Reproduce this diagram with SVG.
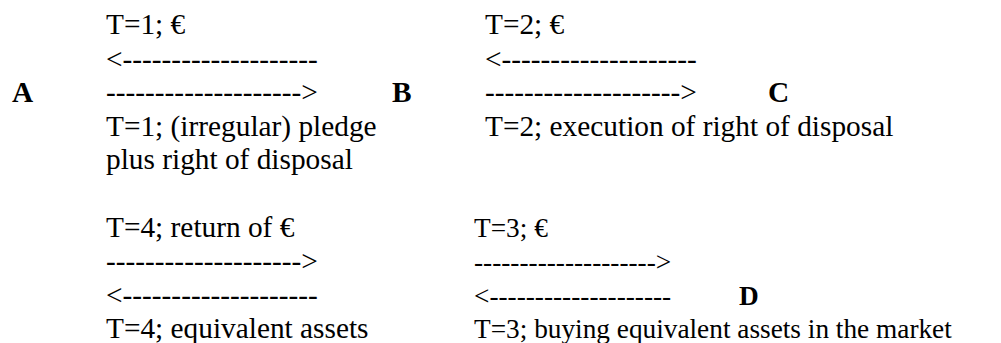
<svg xmlns="http://www.w3.org/2000/svg" width="1001" height="343" viewBox="0 0 1001 343">
<style>
  .t { font-family: 'Liberation Serif', 'DejaVu Serif', serif; font-size: 29.33px; fill: #000; }
  .s { font-size: 27.3px; }
  .node { font-weight: bold; }
</style>
<rect width="1001" height="343" fill="#fff"/>
<g id="node-A"><text class="t node" x="12" y="102">A</text></g>
<g id="node-B"><text class="t node" x="392" y="102">B</text></g>
<g id="node-C"><text class="t node" x="768" y="102">C</text></g>
<g id="node-D"><text class="t s node" x="739" y="304.5">D</text></g>
<g id="connectors">
  <text class="t" x="106" y="68.5">&lt;--------------------</text>
  <text class="t" x="106" y="102">--------------------&gt;</text>
  <text class="t" x="485" y="68.5">&lt;--------------------</text>
  <text class="t" x="485" y="102">--------------------&gt;</text>
  <text class="t" x="106" y="271">--------------------&gt;</text>
  <text class="t" x="106" y="304.5">&lt;--------------------</text>
  <text class="t s" x="474" y="271">--------------------&gt;</text>
  <text class="t s" x="474" y="304.5">&lt;--------------------</text>
</g>
<g id="labels">
  <text class="t" x="106" y="34">T=1; €</text>
  <text class="t" x="485" y="34">T=2; €</text>
  <text class="t" x="106" y="135.5">T=1; (irregular) pledge</text>
  <text class="t" x="106" y="169">plus right of disposal</text>
  <text class="t" x="485" y="135.5">T=2; execution of right of disposal</text>
  <text class="t" x="106" y="237">T=4; return of €</text>
  <text class="t s" x="474" y="237">T=3; €</text>
  <text class="t" x="106" y="338">T=4; equivalent assets</text>
  <text class="t s" x="474" y="338">T=3; buying equivalent assets in the market</text>
</g>
</svg>
